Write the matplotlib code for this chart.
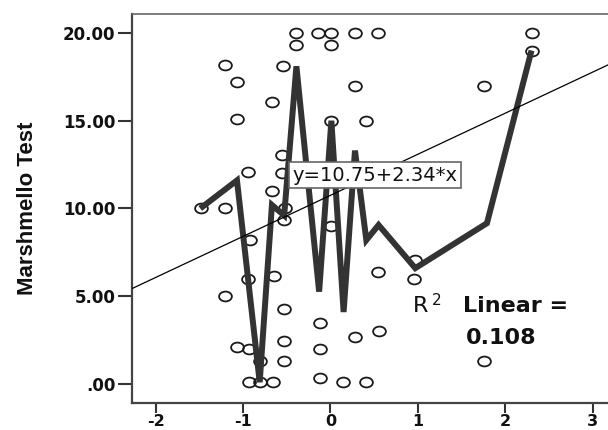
import matplotlib
matplotlib.use("Agg")
import matplotlib.pyplot as plt
import numpy as np
from matplotlib.path import Path

# ---- data ----
pts_x = [-0.40, -0.14, 0.01, 0.28, 0.54, 2.30,
         -0.40, 0.01, 2.30,
         -1.21, -0.54, -1.07, 0.28, 1.76, -0.67,
         -1.07, 0.01, 0.41, -0.55, -0.94, -0.55, -0.67,
         -1.48, -1.21, -0.52, -0.53, 0.01, -0.92,
         0.97, 0.54, -0.94, -0.65, 0.96, -1.21, -0.53,
         -0.12, 0.55, 0.28, -0.53, -1.07, -0.93, -0.12,
         -0.81, -0.53, 1.76, -0.12,
         -0.93, -0.81, -0.66, 0.14, 0.41]
pts_y = [20.0, 20.0, 20.0, 20.0, 20.0, 20.0,
         19.3, 19.3, 19.0,
         18.2, 18.1, 17.2, 17.0, 17.0, 16.05,
         15.1, 15.0, 15.0, 13.05, 12.1, 12.0, 11.0,
         10.0, 10.0, 10.0, 9.35, 9.0, 8.2,
         7.05, 6.4, 6.0, 6.15, 6.0, 5.0, 4.3,
         3.5, 3.0, 2.7, 2.45, 2.1, 2.0, 2.0,
         1.3, 1.3, 1.3, 0.35,
         0.1, 0.1, 0.1, 0.13, 0.13]

line_x = [-1.49, -1.07, -0.81, -0.67, -0.53, -0.39, -0.13, 0.01, 0.15, 0.28, 0.41, 0.55, 0.97, 1.79, 2.30]
line_y = [10.0, 11.6, 0.1, 10.2, 9.6, 18.1, 5.26, 15.0, 4.1, 13.3, 8.2, 9.06, 6.6, 9.16, 19.0]

fit_intercept = 10.75
fit_slope = 2.34
r2_value = "0.108"
fit_label = "y=10.75+2.34*x"

x_ticks = [-2, -1, 0, 1, 2, 3]
y_ticks = [0, 5, 10, 15, 20]
y_tick_labels = [".00", "5.00", "10.00", "15.00", "20.00"]
y_label = "Marshmello Test"

# ---- figure ----
W, H = 608, 430
fig = plt.figure(figsize=(W / 100, H / 100), dpi=100)
ax = fig.add_axes([132 / W, 1 - 403 / H, (608 - 132) / W, (403 - 14) / H])
ax.set_xlim(-2.271, 3.175)
ax.set_ylim(-1.083, 21.08)

# elliptical open marker (image is horizontally stretched)
circ = Path.unit_circle()
ell = Path(circ.vertices * np.array([1.3, 1.0]), circ.codes)

ax.plot(pts_x, pts_y, linestyle="none", marker=ell, markersize=9.2,
        markerfacecolor="none", markeredgecolor="#1a1a1a",
        markeredgewidth=1.3, zorder=2)

ax.plot(line_x, line_y, color="#333333", linewidth=4.3,
        solid_joinstyle="miter", solid_capstyle="butt", zorder=3)

ax.axline((0, fit_intercept), slope=fit_slope, color="black",
          linewidth=0.9, zorder=4)

ax.text(0.5105, 0.586, fit_label, transform=ax.transAxes,
        ha="center", va="center", fontsize=14, family="DejaVu Sans",
        color="#111111", zorder=6,
        bbox=dict(boxstyle="square,pad=0.18", facecolor="white",
                  edgecolor="#666666", linewidth=1.2))

# R^2 annotation
def fx(px):
    return px / W

def fy(py):
    return 1 - py / H

fig.text(fx(413), fy(312), "R", fontsize=16, family="DejaVu Sans",
         va="baseline", ha="left", color="#111111")
fig.text(fx(432), fy(305), "2", fontsize=11, family="DejaVu Sans",
         va="baseline", ha="left", color="#111111")
fig.text(fx(463), fy(312), "Linear =", fontsize=16, family="DejaVu Sans",
         fontweight="bold", va="baseline", ha="left", color="#111111")
fig.text(fx(501), fy(343.5), r2_value, fontsize=16, family="DejaVu Sans",
         fontweight="bold", va="baseline", ha="center", color="#111111")

# axes styling
ax.set_xticks(x_ticks)
ax.set_xticklabels([str(v) for v in x_ticks])
ax.set_yticks(y_ticks)
ax.set_yticklabels(y_tick_labels)
for lab in ax.get_yticklabels():
    lab.set_fontweight("bold")
    lab.set_fontsize(12)
    lab.set_family("DejaVu Sans")
    lab.set_color("#111111")
for lab in ax.get_xticklabels():
    lab.set_fontweight("bold")
    lab.set_fontsize(11.5)
    lab.set_family("DejaVu Sans")
    lab.set_color("#111111")
ax.tick_params(axis="y", length=10, width=1.5, pad=2, color="#333333")
ax.tick_params(axis="x", length=7, width=1.5, pad=1, color="#333333")

ax.spines["right"].set_visible(False)
ax.spines["left"].set_color("#444444")
ax.spines["left"].set_linewidth(1.6)
ax.spines["bottom"].set_color("#444444")
ax.spines["bottom"].set_linewidth(1.6)
ax.spines["top"].set_color("#666666")
ax.spines["top"].set_linewidth(1.2)

fig.text(fx(28), fy(208), y_label, rotation=90, ha="center", va="center",
         fontsize=16, fontweight="bold", family="Liberation Sans",
         color="#111111")

fig.savefig("out.png", dpi=100)
